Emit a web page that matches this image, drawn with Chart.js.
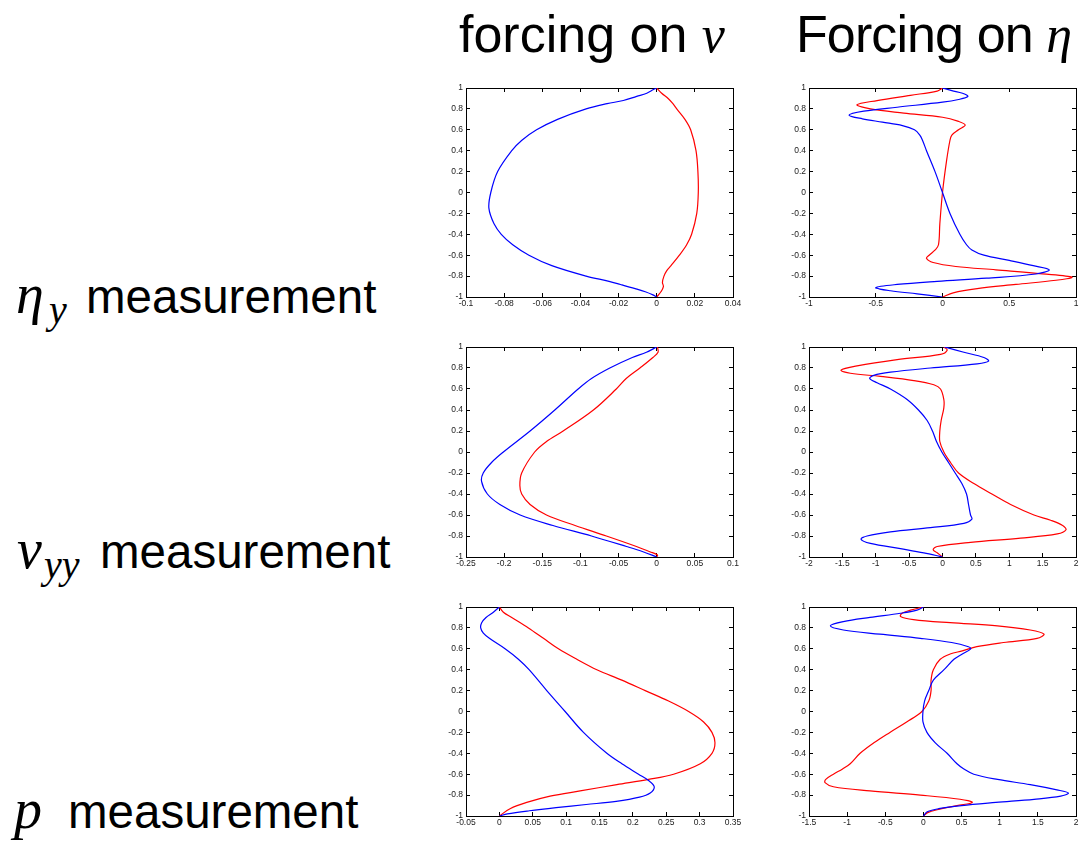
<!DOCTYPE html>
<html>
<head>
<meta charset="utf-8">
<script src="https://cdn.jsdelivr.net/npm/chart.js@4/dist/chart.umd.min.js"></script>
<style>
  html, body { margin: 0; padding: 0; background: #fff; }
  body { width: 1081px; height: 841px; position: relative; overflow: hidden;
         font-family: "Liberation Sans", Arial, sans-serif; color: #000; }
  .lbl { position: absolute; white-space: nowrap; line-height: 1; }
  .m { font-family: "Liberation Serif", "DejaVu Serif", serif; font-style: italic; }
  .panel { position: absolute; }
</style>
</head>
<body>

<div class="lbl" style="left:459px;top:8px;font-size:52px">forcing on <span class="m">v</span></div>
<div class="lbl" style="left:796px;top:8px;font-size:52px;letter-spacing:-0.9px">Forcing on <span class="m">η</span></div>

<div class="lbl m" style="left:16px;top:266px;font-size:56px">η</div>
<div class="lbl m" style="left:49px;top:290px;font-size:40px">y</div>
<div class="lbl" style="left:86px;top:273px;font-size:47.5px">measurement</div>

<div class="lbl m" style="left:17px;top:521px;font-size:56px">v</div>
<div class="lbl m" style="left:44px;top:545px;font-size:40px">yy</div>
<div class="lbl" style="left:100px;top:528px;font-size:47.5px">measurement</div>

<div class="lbl m" style="left:14px;top:781px;font-size:56px">p</div>
<div class="lbl" style="left:68px;top:788px;font-size:47.5px">measurement</div>

<canvas class="panel" id="p1"></canvas>
<canvas class="panel" id="p2"></canvas>
<canvas class="panel" id="p3"></canvas>
<canvas class="panel" id="p4"></canvas>
<canvas class="panel" id="p5"></canvas>
<canvas class="panel" id="p6"></canvas>

<script>
// ---- shared vertical axis ----
const Y_TICKS = [-1, -0.8, -0.6, -0.4, -0.2, 0, 0.2, 0.4, 0.6, 0.8, 1];

// ---- horizontal tick values per panel ----
const X_TICKS_ETA_V   = [-0.1, -0.08, -0.06, -0.04, -0.02, 0, 0.02, 0.04];
const X_TICKS_ETA_ETA = [-1, -0.5, 0, 0.5, 1];
const X_TICKS_VYY_V   = [-0.25, -0.2, -0.15, -0.1, -0.05, 0, 0.05, 0.1];
const X_TICKS_VYY_ETA = [-2, -1.5, -1, -0.5, 0, 0.5, 1, 1.5, 2];
const X_TICKS_P_V     = [-0.05, 0, 0.05, 0.1, 0.15, 0.2, 0.25, 0.3, 0.35];
const X_TICKS_P_ETA   = [-1.5, -1, -0.5, 0, 0.5, 1, 1.5, 2];

// ---- eta_y measurement, forcing on v ----
const Y_ETA_V_BLUE = [1, 0.985, 0.95, 0.92, 0.88, 0.85, 0.8, 0.7, 0.6, 0.5, 0.4, 0.2, 0, -0.15, -0.3, -0.4, -0.5, -0.6, -0.7, -0.8, -0.85, -0.88, -0.92, -0.95, -0.98, -1];
const X_ETA_V_BLUE = [0, -0.0017, -0.0052, -0.0105, -0.0175, -0.026, -0.037, -0.052, -0.063, -0.0707, -0.076, -0.0834, -0.087, -0.088, -0.0853, -0.0815, -0.0755, -0.067, -0.055, -0.037, -0.025, -0.019, -0.0113, -0.006, -0.002, 0];
const Y_ETA_V_RED  = [1, 0.95, 0.9, 0.85, 0.8, 0.7, 0.6, 0.4, 0.2, 0, -0.2, -0.4, -0.5, -0.6, -0.7, -0.75, -0.8, -0.86, -0.9, -0.95, -1];
const X_ETA_V_RED  = [0, 0.0026, 0.006, 0.0085, 0.0105, 0.0148, 0.0178, 0.0206, 0.0216, 0.0218, 0.021, 0.0183, 0.0157, 0.0119, 0.0075, 0.0052, 0.0038, 0.003, 0.0035, 0.0022, 0];

// ---- eta_y measurement, forcing on eta ----
const Y_ETA_ETA_BLUE = [1, 0.975, 0.95, 0.92, 0.89, 0.864, 0.816, 0.778, 0.74, 0.705, 0.673, 0.64, 0.6, 0.55, 0.5, 0.4, 0.2, 0, -0.2, -0.4, -0.5, -0.55, -0.6, -0.65, -0.7, -0.74, -0.78, -0.82, -0.85, -0.88, -0.91, -0.94, -0.97, -1];
const X_ETA_ETA_BLUE = [0, 0.07, 0.15, 0.19, 0.12, 0, -0.34, -0.59, -0.7, -0.6, -0.45, -0.3, -0.21, -0.17, -0.15, -0.12, -0.056, 0, 0.056, 0.13, 0.18, 0.22, 0.31, 0.5, 0.68, 0.8, 0.7, 0.33, -0.04, -0.34, -0.5, -0.39, -0.19, 0];
const Y_ETA_ETA_RED  = [1, 0.97, 0.93, 0.88, 0.84, 0.8, 0.76, 0.72, 0.68, 0.645, 0.6, 0.55, 0.5, 0.3, 0, -0.3, -0.5, -0.55, -0.6, -0.63, -0.67, -0.708, -0.74, -0.778, -0.81, -0.84, -0.88, -0.92, -0.96, -1];
const X_ETA_ETA_RED  = [0, -0.04, -0.24, -0.49, -0.64, -0.54, -0.29, 0, 0.12, 0.17, 0.12, 0.07, 0.056, 0.03, 0, -0.02, -0.03, -0.055, -0.1, -0.12, -0.07, 0.1, 0.4, 0.75, 0.97, 0.85, 0.55, 0.26, 0.08, 0];

// ---- v_yy measurement, forcing on v ----
const Y_VYY_V_BLUE = [1, 0.95, 0.9, 0.8, 0.7, 0.6, 0.4, 0.2, 0, -0.1, -0.2, -0.28, -0.4, -0.5, -0.6, -0.7, -0.8, -0.9, -0.95, -1];
const X_VYY_V_BLUE = [0, -0.0135, -0.032, -0.0615, -0.0855, -0.103, -0.1336, -0.166, -0.201, -0.2165, -0.2274, -0.2296, -0.222, -0.2056, -0.179, -0.136, -0.0855, -0.0397, -0.018, 0];
const Y_VYY_V_RED  = [1, 0.95, 0.9, 0.8, 0.7, 0.6, 0.4, 0.2, 0.1, 0, -0.2, -0.32, -0.4, -0.5, -0.6, -0.7, -0.8, -0.9, -0.95, -0.98, -1];
const X_VYY_V_RED  = [0.001, 0.0017, -0.005, -0.022, -0.04, -0.053, -0.083, -0.1227, -0.1445, -0.16, -0.177, -0.1794, -0.177, -0.166, -0.1445, -0.107, -0.066, -0.0266, -0.009, 0.001, 0];

// ---- v_yy measurement, forcing on eta ----
const Y_VYY_ETA_BLUE = [1, 0.95, 0.9, 0.865, 0.84, 0.8, 0.76, 0.73, 0.7, 0.66, 0.6, 0.5, 0.4, 0.3, 0.2, 0.1, 0, -0.1, -0.2, -0.3, -0.4, -0.5, -0.6, -0.64, -0.68, -0.72, -0.76, -0.8, -0.83, -0.87, -0.92, -0.96, -1];
const X_VYY_ETA_BLUE = [0.03, 0.32, 0.62, 0.69, 0.52, -0.18, -0.78, -1.03, -1.09, -0.98, -0.78, -0.53, -0.36, -0.23, -0.15, -0.09, -0.01, 0.09, 0.19, 0.29, 0.36, 0.39, 0.42, 0.44, 0.32, -0.18, -0.78, -1.13, -1.22, -1.08, -0.63, -0.28, 0];
const Y_VYY_ETA_RED  = [1, 0.97, 0.93, 0.88, 0.82, 0.78, 0.75, 0.72, 0.68, 0.64, 0.6, 0.5, 0.42, 0.3, 0.2, 0.1, 0, -0.1, -0.2, -0.3, -0.4, -0.5, -0.6, -0.65, -0.7, -0.74, -0.78, -0.82, -0.86, -0.9, -0.93, -0.96, -1];
const X_VYY_ETA_RED  = [0.02, 0.07, -0.03, -0.68, -1.28, -1.52, -1.38, -0.93, -0.43, -0.13, -0.03, 0.02, 0.02, -0.02, -0.04, -0.04, 0.02, 0.12, 0.24, 0.47, 0.74, 1.02, 1.37, 1.62, 1.8, 1.85, 1.72, 1.17, 0.42, -0.08, -0.14, -0.08, 0];

// ---- p measurement, forcing on v ----
const Y_P_V_BLUE = [1, 0.95, 0.9, 0.85, 0.8, 0.75, 0.7, 0.6, 0.5, 0.4, 0.2, 0, -0.2, -0.4, -0.5, -0.6, -0.66, -0.72, -0.78, -0.82, -0.86, -0.89, -0.92, -0.95, -0.98, -1];
const X_P_V_BLUE = [0, -0.009, -0.02, -0.0265, -0.028, -0.024, -0.015, 0.0085, 0.0285, 0.0445, 0.071, 0.0985, 0.126, 0.161, 0.1835, 0.2085, 0.2235, 0.232, 0.226, 0.21, 0.175, 0.13, 0.085, 0.045, 0.012, 0];
const Y_P_V_RED  = [1, 0.95, 0.9, 0.8, 0.7, 0.6, 0.5, 0.4, 0.3, 0.2, 0.1, 0, -0.1, -0.2, -0.3, -0.4, -0.5, -0.6, -0.65, -0.7, -0.76, -0.81, -0.87, -0.93, -1];
const X_P_V_RED  = [0, 0.006, 0.0185, 0.0435, 0.066, 0.0885, 0.116, 0.146, 0.1835, 0.2185, 0.2535, 0.2835, 0.306, 0.3185, 0.323, 0.3185, 0.301, 0.261, 0.2235, 0.176, 0.121, 0.076, 0.041, 0.016, 0];

// ---- p measurement, forcing on eta ----
const Y_P_ETA_BLUE = [1, 0.97, 0.94, 0.9, 0.86, 0.82, 0.78, 0.74, 0.7, 0.66, 0.62, 0.6, 0.55, 0.5, 0.4, 0.3, 0.2, 0.1, 0, -0.1, -0.2, -0.3, -0.4, -0.5, -0.55, -0.6, -0.65, -0.7, -0.75, -0.78, -0.81, -0.84, -0.87, -0.9, -0.93, -0.96, -1];
const X_P_ETA_BLUE = [0, -0.085, -0.3, -0.7, -1.05, -1.22, -1.05, -0.57, -0.04, 0.37, 0.59, 0.62, 0.51, 0.4, 0.27, 0.13, 0.07, 0.015, -0.006, -0.006, 0.046, 0.156, 0.31, 0.44, 0.53, 0.66, 0.97, 1.4, 1.75, 1.9, 1.8, 1.45, 0.95, 0.5, 0.2, 0.05, 0];
const Y_P_ETA_RED  = [1, 0.97, 0.94, 0.91, 0.88, 0.85, 0.82, 0.78, 0.74, 0.7, 0.66, 0.62, 0.58, 0.55, 0.5, 0.4, 0.3, 0.2, 0.1, 0, -0.1, -0.2, -0.3, -0.4, -0.5, -0.55, -0.6, -0.65, -0.68, -0.72, -0.76, -0.8, -0.84, -0.87, -0.9, -0.94, -0.97, -1];
const X_P_ETA_RED  = [0, -0.17, -0.28, -0.3, -0.13, 0.35, 0.97, 1.4, 1.58, 1.49, 1.05, 0.7, 0.51, 0.35, 0.22, 0.13, 0.1, 0.1, 0.07, -0.02, -0.22, -0.44, -0.65, -0.83, -0.96, -1.06, -1.18, -1.28, -1.29, -1.18, -0.7, -0.04, 0.48, 0.64, 0.44, 0.18, 0.05, 0];

// ---- panel placement (plot box left/top, box size) ----
const BOX_W = 267;
const COL_LEFT = [466, 809];
const ROW_TOP = [88, 347, 607];
const ROW_H = [209, 210, 209];
const PAD = { l: 46, r: 14, t: 8, b: 20 };

const BLUE = '#0000ff';
const RED = '#ff0000';

const pair = (ys, xs) => ys.map((y, i) => ({ x: xs[i], y }));

function axis(position, ticks, showLabels, size) {
  const horizontal = position === 'top' || position === 'bottom';
  return {
    type: 'linear',
    position,
    min: ticks[0],
    max: ticks[ticks.length - 1],
    afterBuildTicks: s => { s.ticks = ticks.map(v => ({ value: v })); },
    afterFit: s => {
      if (horizontal) s.height = size; else s.width = size;
      // end labels may spill past the box; the canvas margin already leaves room
      s.paddingLeft = s.paddingRight = s.paddingTop = s.paddingBottom = 0;
    },
    border: { display: true, color: '#000', width: 1 },
    grid: { drawOnChartArea: false, drawTicks: true, tickLength: -4, color: '#000', tickWidth: 1 },
    ticks: {
      display: showLabels,
      autoSkip: false,
      maxRotation: 0,
      padding: horizontal ? 6 : 7,
      color: '#1a1a1a',
      font: { family: '"Liberation Sans", Arial, sans-serif', size: 8.5 },
      callback: v => String(v)
    }
  };
}

function panel(id, col, row, xTicks, blue, red) {
  const cv = document.getElementById(id);
  const w = BOX_W + PAD.l + PAD.r;
  const h = ROW_H[row] + PAD.t + PAD.b;
  cv.width = w; cv.height = h;
  cv.style.width = w + 'px'; cv.style.height = h + 'px';
  cv.style.left = (COL_LEFT[col] - PAD.l) + 'px';
  cv.style.top = (ROW_TOP[row] - PAD.t) + 'px';
  new Chart(cv, {
    type: 'scatter',
    data: {
      datasets: [
        { data: blue, showLine: true, borderColor: BLUE, borderWidth: 1.2, pointRadius: 0, tension: 0.35, fill: false },
        { data: red, showLine: true, borderColor: RED, borderWidth: 1.2, pointRadius: 0, tension: 0.35, fill: false }
      ]
    },
    options: {
      responsive: false,
      animation: false,
      events: [],
      layout: { padding: 0 },
      plugins: { legend: { display: false }, tooltip: { enabled: false } },
      scales: {
        x: axis('bottom', xTicks, true, PAD.b),
        x2: axis('top', xTicks, false, PAD.t),
        y: axis('left', Y_TICKS, true, PAD.l),
        y2: axis('right', Y_TICKS, false, PAD.r)
      }
    }
  });
}

panel('p1', 0, 0, X_TICKS_ETA_V,   pair(Y_ETA_V_BLUE, X_ETA_V_BLUE),     pair(Y_ETA_V_RED, X_ETA_V_RED));
panel('p2', 1, 0, X_TICKS_ETA_ETA, pair(Y_ETA_ETA_BLUE, X_ETA_ETA_BLUE), pair(Y_ETA_ETA_RED, X_ETA_ETA_RED));
panel('p3', 0, 1, X_TICKS_VYY_V,   pair(Y_VYY_V_BLUE, X_VYY_V_BLUE),     pair(Y_VYY_V_RED, X_VYY_V_RED));
panel('p4', 1, 1, X_TICKS_VYY_ETA, pair(Y_VYY_ETA_BLUE, X_VYY_ETA_BLUE), pair(Y_VYY_ETA_RED, X_VYY_ETA_RED));
panel('p5', 0, 2, X_TICKS_P_V,     pair(Y_P_V_BLUE, X_P_V_BLUE),         pair(Y_P_V_RED, X_P_V_RED));
panel('p6', 1, 2, X_TICKS_P_ETA,   pair(Y_P_ETA_BLUE, X_P_ETA_BLUE),     pair(Y_P_ETA_RED, X_P_ETA_RED));
</script>
</body>
</html>
